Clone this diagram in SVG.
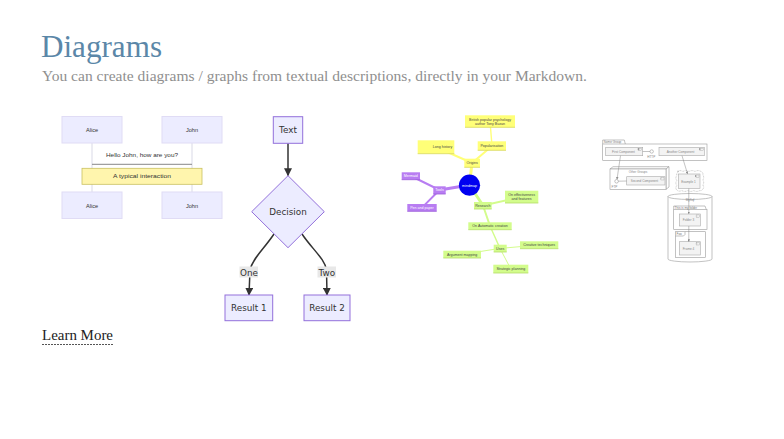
<svg xmlns="http://www.w3.org/2000/svg" width="784" height="439" viewBox="0 0 784 439">
<style>
.title{font-family:"Liberation Serif",serif;font-size:32px;fill:#5b87a8}
.sub{font-family:"Liberation Serif",serif;font-size:15px;fill:#8f8f8f}
.more{font-family:"Liberation Serif",serif;font-size:15px;fill:#222}
.actor{fill:#ECECFF;stroke:#e0dcf5;stroke-width:1}
.st{font-family:"Liberation Sans",sans-serif;font-size:5.6px;fill:#333;text-anchor:middle}
.life{stroke:#cfcfe0;stroke-width:0.8}
.fn{fill:#ECECFF;stroke:#9370DB;stroke-width:1}
.ft{font-family:"DejaVu Sans",sans-serif;font-size:8.8px;fill:#333;text-anchor:middle}
.fe{fill:none;stroke:#333;stroke-width:1.5}
.lbl{fill:#e8e8e8}
.mt{font-family:"Liberation Sans",sans-serif;font-size:3.6px;text-anchor:middle;fill:#444}
.mtw{font-family:"Liberation Sans",sans-serif;font-size:3.6px;text-anchor:middle;fill:#fff}
.y{fill:#ffff78}
.yl{stroke:#d8d860;stroke-width:0.8}
.p{fill:#b87df2}
.pl{stroke:#9a5ad8;stroke-width:0.8}
.g{fill:#d3fc8c}
.gl{stroke:#b4dc68;stroke-width:0.8}
.ey{stroke:#ffff78;fill:none;stroke-linecap:round}
.ep{stroke:#b87df2;fill:none;stroke-linecap:round}
.eg{stroke:#d3fc8c;fill:none;stroke-linecap:round}
.cb{fill:#f3f3f3;stroke:#aaa;stroke-width:0.6}
.cg{fill:#fff;stroke:#999;stroke-width:0.6}
.ct{font-family:"Liberation Sans",sans-serif;font-size:3.1px;fill:#888;text-anchor:middle}
.ctl{font-family:"Liberation Sans",sans-serif;font-size:3.1px;fill:#777}
.cl{stroke:#888;stroke-width:0.5;fill:none}
</style>
<defs>
<marker id="fa" viewBox="0 0 10 10" refX="9" refY="5" markerWidth="8" markerHeight="8" markerUnits="userSpaceOnUse" orient="auto"><path d="M0,0 L10,5 L0,10 z" fill="#333"/></marker>
<marker id="ca" viewBox="0 0 10 10" refX="9" refY="5" markerWidth="2.5" markerHeight="2.5" markerUnits="userSpaceOnUse" orient="auto"><path d="M0,0 L10,5 L0,10 z" fill="#888"/></marker>
<g id="icon"><rect x="0" y="0" width="3" height="2.4" fill="#f3f3f3" stroke="#999" stroke-width="0.35"/><rect x="-0.6" y="0.4" width="1.2" height="0.5" fill="#f3f3f3" stroke="#999" stroke-width="0.25"/><rect x="-0.6" y="1.4" width="1.2" height="0.5" fill="#f3f3f3" stroke="#999" stroke-width="0.25"/></g>
</defs>
<rect width="784" height="439" fill="#fff"/>

<g id="header">
<text class="title" x="41" y="57" textLength="121" lengthAdjust="spacingAndGlyphs">Diagrams</text>
<text class="sub" x="42" y="81" textLength="545" lengthAdjust="spacingAndGlyphs">You can create diagrams / graphs from textual descriptions, directly in your Markdown.</text>
</g>

<g id="sequence">
<line class="life" x1="92" y1="143" x2="92" y2="192"/>
<line class="life" x1="192" y1="143" x2="192" y2="192"/>
<g id="seq-alice-top"><rect class="actor" x="62" y="116.5" width="60" height="26.5"/><text class="st" x="92" y="132">Alice</text></g>
<g id="seq-john-top"><rect class="actor" x="162" y="116.5" width="60" height="26.5"/><text class="st" x="192" y="132">John</text></g>
<g id="seq-alice-bottom"><rect class="actor" x="62" y="192" width="60" height="26.5"/><text class="st" x="92" y="207.5">Alice</text></g>
<g id="seq-john-bottom"><rect class="actor" x="162" y="192" width="60" height="26.5"/><text class="st" x="192" y="207.5">John</text></g>
<text class="st" x="142" y="156.5" fill="#444" textLength="72" lengthAdjust="spacingAndGlyphs">Hello John, how are you?</text>
<line x1="92" y1="164.3" x2="192" y2="164.3" stroke="#888" stroke-width="1"/>
<g id="seq-note"><rect x="82" y="168.3" width="120" height="16" fill="#fff5ad" stroke="#c9c060" stroke-width="0.8"/><text class="st" x="142" y="178.3" textLength="58" lengthAdjust="spacingAndGlyphs">A typical interaction</text></g>
</g>

<g id="flow-edges">
<line class="fe" x1="288" y1="143.3" x2="288" y2="175.5" marker-end="url(#fa)"/>
<path class="fe" d="M274,234 C264,249 252,259 250,270 L249,295" marker-end="url(#fa)"/>
<path class="fe" d="M302,234 C312,249 325,259 326.5,270 L327,295" marker-end="url(#fa)"/>
<rect class="lbl" x="239.5" y="266.5" width="18.5" height="11"/>
<text class="ft" x="249" y="275.5">One</text>
<rect class="lbl" x="317.5" y="266.5" width="18.5" height="11"/>
<text class="ft" x="326.8" y="275.5">Two</text>
</g>
<g id="flow-text"><rect class="fn" x="273.3" y="116.7" width="29.4" height="26.6"/><text class="ft" x="288" y="133.3">Text</text></g>
<g id="flow-decision"><polygon class="fn" points="288,175.7 324.3,211.7 288,247.7 251.7,211.7"/><text class="ft" x="288" y="214.8">Decision</text></g>
<g id="flow-result1"><rect class="fn" x="225" y="295" width="47.7" height="25.7"/><text class="ft" x="248.8" y="311">Result 1</text></g>
<g id="flow-result2"><rect class="fn" x="304" y="295" width="46" height="25.7"/><text class="ft" x="327" y="311">Result 2</text></g>

<g id="mind-edges">
<line class="ey" x1="469.5" y1="185" x2="472" y2="163" stroke-width="3"/>
<line class="ey" x1="472" y1="163" x2="436" y2="147" stroke-width="2"/>
<line class="ey" x1="472" y1="163" x2="492" y2="146" stroke-width="2"/>
<line class="ey" x1="492" y1="146" x2="490" y2="121" stroke-width="1.4"/>
<line class="ep" x1="469.5" y1="185" x2="439.5" y2="190" stroke-width="3"/>
<line class="ep" x1="439.5" y1="190" x2="411" y2="176" stroke-width="2"/>
<line class="ep" x1="439.5" y1="190" x2="422" y2="207.6" stroke-width="2"/>
<line class="eg" x1="469.5" y1="185" x2="483" y2="205.5" stroke-width="3"/>
<line class="eg" x1="483" y1="205.5" x2="521.6" y2="197" stroke-width="2"/>
<line class="eg" x1="483" y1="205.5" x2="490" y2="226" stroke-width="2"/>
<line class="eg" x1="490" y1="226" x2="500" y2="248.4" stroke-width="1.4"/>
<line class="eg" x1="500" y1="248.4" x2="539" y2="245" stroke-width="1"/>
<line class="eg" x1="500" y1="248.4" x2="462" y2="254.4" stroke-width="1"/>
<line class="eg" x1="500" y1="248.4" x2="510.8" y2="269" stroke-width="1"/>
</g>
<g id="mind-root"><circle cx="469.5" cy="185.2" r="10.6" fill="#0000f0"/><text class="mtw" x="469.5" y="186.5">mindmap</text></g>
<g id="mind-british"><rect class="y" x="465" y="115.3" width="50" height="12"/><line class="yl" x1="465" y1="127.3" x2="515" y2="127.3"/><text class="mt" x="490" y="120.6">British popular psychology</text><text class="mt" x="490" y="124.8">author Tony Buzan</text></g>
<g id="mind-popularisation"><rect class="y" x="477.7" y="141.3" width="28.3" height="9"/><line class="yl" x1="477.7" y1="150.3" x2="506" y2="150.3"/><text class="mt" x="491.8" y="147.1">Popularisation</text></g>
<g id="mind-long"><rect class="y" x="417.7" y="140.3" width="36.6" height="13.4"/><line class="yl" x1="417.7" y1="153.7" x2="454.3" y2="153.7"/><text class="mt" x="442.5" y="148.3">Long history</text></g>
<g id="mind-origins"><rect class="y" x="464.3" y="158.7" width="15.7" height="8.6"/><line class="yl" x1="464.3" y1="167.3" x2="480" y2="167.3"/><text class="mt" x="472.2" y="164.3">Origins</text></g>
<g id="mind-tools"><rect class="p" x="433.3" y="186.3" width="12.4" height="7.7"/><line class="pl" x1="433.3" y1="194" x2="445.7" y2="194"/><text class="mtw" x="439.5" y="191.4">Tools</text></g>
<g id="mind-mermaid"><rect class="p" x="401.7" y="172.3" width="18.3" height="7.4"/><line class="pl" x1="401.7" y1="179.7" x2="420" y2="179.7"/><text class="mtw" x="410.8" y="177.2">Mermaid</text></g>
<g id="mind-pen"><rect class="p" x="407.3" y="204" width="29.4" height="7.3"/><line class="pl" x1="407.3" y1="211.3" x2="436.7" y2="211.3"/><text class="mtw" x="422" y="208.9">Pen and paper</text></g>
<g id="mind-research"><rect class="g" x="474" y="202" width="17.7" height="7"/><line class="gl" x1="474" y1="209" x2="491.7" y2="209"/><text class="mt" x="482.9" y="206.8">Research</text></g>
<g id="mind-effect"><rect class="g" x="505" y="190.7" width="33.3" height="12.3"/><line class="gl" x1="505" y1="203" x2="538.3" y2="203"/><text class="mt" x="521.6" y="196">On effectiveness</text><text class="mt" x="521.6" y="200.2">and features</text></g>
<g id="mind-auto"><rect class="g" x="468.3" y="222.3" width="43.4" height="7.4"/><line class="gl" x1="468.3" y1="229.7" x2="511.7" y2="229.7"/><text class="mt" x="490" y="227.2">On Automatic creation</text></g>
<g id="mind-uses"><rect class="g" x="493.7" y="244.7" width="13" height="7.3"/><line class="gl" x1="493.7" y1="252" x2="506.7" y2="252"/><text class="mt" x="500.2" y="249.6">Uses</text></g>
<g id="mind-creative"><rect class="g" x="520" y="241.3" width="38.3" height="7.4"/><line class="gl" x1="520" y1="248.7" x2="558.3" y2="248.7"/><text class="mt" x="539.1" y="246.2">Creative techniques</text></g>
<g id="mind-argument"><rect class="g" x="443.3" y="250.7" width="37.7" height="7.3"/><line class="gl" x1="443.3" y1="258" x2="481" y2="258"/><text class="mt" x="462.1" y="255.6">Argument mapping</text></g>
<g id="mind-strategic"><rect class="g" x="493.3" y="264.7" width="35" height="8.3"/><line class="gl" x1="493.3" y1="273" x2="528.3" y2="273"/><text class="mt" x="510.8" y="270">Strategic planning</text></g>

<g id="comp-some-group">
<path d="M602.7,144 L602.7,140 L624.3,140 L625.3,144" class="cg" fill="none"/>
<rect class="cg" x="602.7" y="144" width="104.3" height="16.3" fill="none"/>
<text class="ctl" x="603.8" y="143.1">Some Group</text>
</g>
<g id="comp-first"><rect class="cb" x="605.7" y="147.3" width="37" height="8.4"/><use href="#icon" x="638.5" y="148.2"/><text class="ct" x="623.5" y="152.7">First Component</text></g>
<g id="comp-http"><circle cx="651.7" cy="151.5" r="1.7" fill="#fff" stroke="#888" stroke-width="0.5"/><text class="ct" x="651.3" y="158">HTTP</text></g>
<g id="comp-another"><rect class="cb" x="659" y="147.3" width="45.3" height="8.4"/><use href="#icon" x="700.2" y="148.2"/><text class="ct" x="680.5" y="152.7">Another Component</text></g>
<g id="comp-other-groups">
<polygon class="cg" points="610,169 613,166.7 669,166.7 666,169"/>
<polygon class="cg" points="666,169 669,166.7 669,187 666,189.3"/>
<rect class="cg" x="610" y="169" width="56" height="20.3"/>
<text class="ct" x="638" y="172.8" fill="#666">Other Groups</text>
</g>
<g id="comp-second"><rect class="cb" x="626.7" y="176.7" width="38.3" height="8.3"/><use href="#icon" x="661" y="177.6"/><text class="ct" x="644.5" y="182">Second Component</text></g>
<g id="comp-ftp"><circle cx="616.6" cy="181.3" r="1.8" fill="#fff" stroke="#888" stroke-width="0.5"/><text class="ct" x="614.5" y="187.6" fill="#d08888">FTP</text></g>
<g id="comp-example1">
<path d="M677,171.5 q3,-1.8 6,0 q3,-1.8 6,0 q3,-1.8 6,0 q3,-1.8 6,0 q2.5,1 1.8,3.5 q1.8,2.5 0,5 q1.8,2.5 0,5 q1.8,2.5 0,4 q-1,2 -3,1.5 q-3,1.8 -6,0 q-3,1.8 -6,0 q-3,1.8 -6,0 q-3,1.5 -5,-0.5 q-1.8,-2 0,-4.5 q-1.8,-2.5 0,-5 q-1.8,-2.5 0,-5 q-0.5,-3 2.2,-4 z" fill="#fff" stroke="#999" stroke-width="0.5" stroke-dasharray="1,0.6"/>
<rect class="cb" x="678.5" y="174" width="21.5" height="14.5"/><use href="#icon" x="696" y="175"/><text class="ct" x="688.5" y="182.8">Example 1</text>
</g>
<g id="comp-mysql">
<path d="M668,196.5 L668,259 A22,3 0 0 0 712,259 L712,196.5" class="cg"/>
<ellipse class="cg" cx="690" cy="196.5" rx="22" ry="3"/>
<text class="ct" x="690" y="201.3" fill="#666">MySql</text>
</g>
<g id="comp-folder">
<path d="M673.7,209.3 L673.7,206 L705,206 L706.2,209.3" class="cg"/>
<rect class="cg" x="673.7" y="209.3" width="33.3" height="20"/>
<text class="ctl" x="674.6" y="208.6" font-size="2.8px">This is my folder</text>
</g>
<g id="comp-folder3"><rect class="cb" x="679.3" y="214" width="21" height="12"/><use href="#icon" x="696.5" y="214.9"/><text class="ct" x="688.5" y="221.2">Folder 3</text></g>
<g id="comp-foo">
<rect class="cg" x="675.3" y="231.7" width="30" height="25.6"/>
<path d="M675.3,236 L683.5,236 L685,234.5 L685,231.7" class="cg" fill="none"/>
<text class="ctl" x="676.5" y="235">Foo</text>
</g>
<g id="comp-frame4"><rect class="cb" x="679.3" y="241.7" width="21" height="13.3"/><use href="#icon" x="696.5" y="242.6"/><text class="ct" x="688.5" y="249.5">Frame 4</text></g>
<g id="comp-edges">
<line class="cl" x1="642.7" y1="151.5" x2="650" y2="151.5"/>
<line class="cl" x1="618.4" y1="181.2" x2="626.7" y2="181"/>
<line class="cl" x1="620.5" y1="155.7" x2="617" y2="179.3" marker-end="url(#ca)"/>
<line class="cl" x1="682" y1="155.7" x2="687.5" y2="173.8" marker-end="url(#ca)"/>
<line class="cl" x1="688.8" y1="188.5" x2="688.8" y2="213.8" marker-end="url(#ca)"/>
<line class="cl" x1="688.8" y1="226" x2="688.8" y2="241.5" marker-end="url(#ca)"/>
</g>

<g id="learn-more">
<text class="more" x="42" y="340" textLength="71" lengthAdjust="spacingAndGlyphs">Learn More</text>
<line x1="42" y1="344.5" x2="114" y2="344.5" stroke="#555" stroke-width="1" stroke-dasharray="2,1"/>
</g>
</svg>
